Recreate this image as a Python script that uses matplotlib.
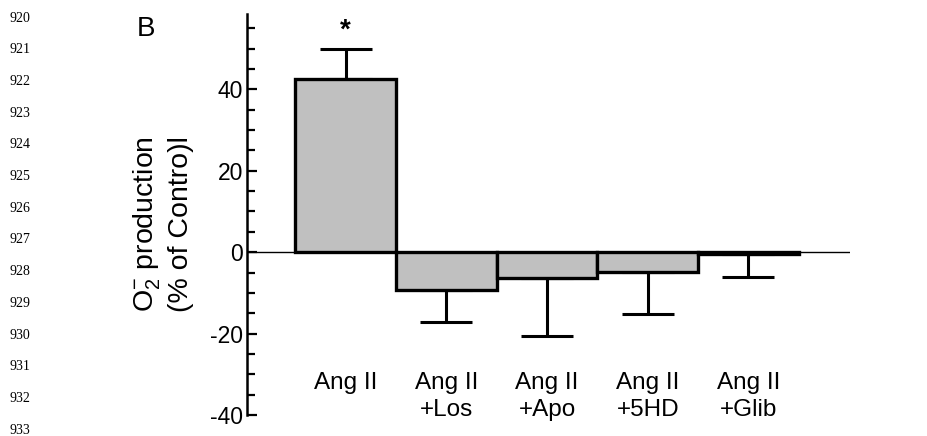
import matplotlib.pyplot as plt
import numpy as np

plt.rcParams['font.family'] = ['Liberation Sans', 'DejaVu Sans']
plt.rcParams['mathtext.fontset'] = 'custom'
plt.rcParams['mathtext.rm'] = 'Liberation Sans'
plt.rcParams['mathtext.it'] = 'Liberation Sans:italic'
plt.rcParams['axes.unicode_minus'] = False

groups = ["Ang II", "Ang II\n+Los", "Ang II\n+Apo", "Ang II\n+5HD", "Ang II\n+Glib"]
means = [42.6, -9.3, -6.4, -4.9, -0.5]
sems = [7.4, 7.9, 14.1, 10.3, 5.6]
line_numbers = [str(n) for n in range(920, 934)]

fig = plt.figure(figsize=(9.27, 4.36), dpi=100)
ax = fig.add_axes([0.2665, 0.048, 0.917 - 0.2665, 0.968 - 0.048])

x = np.arange(len(groups))
ax.axhline(0, color="black", lw=1.0, zorder=1)
lower = [s if m < 0 else 0 for m, s in zip(means, sems)]
upper = [s if m >= 0 else 0 for m, s in zip(means, sems)]
ax.errorbar(x, means, yerr=[lower, upper], fmt="none", ecolor="black",
            elinewidth=2.2, capsize=19, capthick=2.2, zorder=2)
ax.bar(x, means, width=1.0, color="#c0c0c0", edgecolor="black", linewidth=2.4, zorder=3)

ax.text(0, 54.5, "*", ha="center", va="center", fontsize=20, fontweight="bold")
for xi, g in zip(x, groups):
    ax.text(xi, -29.4, g, ha="center", va="top", fontsize=17.5, linespacing=1.3)

ax.set_xlim(-0.98, 5.01)
ax.set_ylim(-40, 58.5)
ax.set_xticks([])
ax.set_yticks([-40, -20, 0, 20, 40])
ax.set_yticks(np.arange(-40, 58, 5), minor=True)
ax.tick_params(axis="y", which="major", direction="in", length=7, width=1.6,
               labelsize=16.5, pad=3)
ax.tick_params(axis="y", which="minor", direction="in", length=5.5, width=1.6)
for side in ["top", "right", "bottom"]:
    ax.spines[side].set_visible(False)
ax.spines["left"].set_linewidth(1.8)

ax.set_ylabel("O$_2^{-}$ production\n(% of Contro)l", fontsize=20.5, linespacing=1.25)
ax.yaxis.set_label_coords(-0.088, 0.476)

fig.text(137 / 927, 1 - 29 / 436, "B", fontsize=20, ha="left", va="center")

for i, t in enumerate(line_numbers):
    fig.text(9 / 927, 1 - (18 + i * 31.7) / 436, t, fontsize=10,
             family="Liberation Serif", ha="left", va="center")

fig.savefig("out.png", dpi=100)
